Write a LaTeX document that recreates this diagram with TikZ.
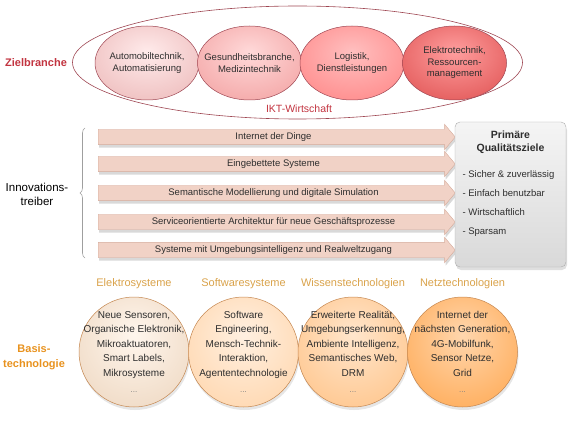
\documentclass[tikz,border=0pt]{standalone}
\usepackage{fontspec}
\setmainfont{Liberation Sans}
\usepackage{tikz}
\usetikzlibrary{positioning,shapes.geometric,shapes.arrows,shadows,decorations.pathreplacing}
\definecolor{zielrot}{HTML}{C23440}
\definecolor{randrot}{HTML}{9E4652}
\definecolor{pfeilbg}{HTML}{F1D2C6}
\definecolor{pfeilrand}{HTML}{D5AB9B}
\definecolor{basisor}{HTML}{E8921E}
\definecolor{katgold}{HTML}{D9A24A}
\definecolor{kreisrand}{HTML}{C4864F}
\definecolor{textgrau}{HTML}{2E2E2E}
% Schattierungen: heller Kern etwas oberhalb der Mitte
\newcommand{\kugelschatten}[3]{%
  \pgfdeclareradialshading{#1}{\pgfpoint{0bp}{8bp}}%
    {color(0bp)=(#2); color(30bp)=(#2!45!#3); color(50bp)=(#3); color(70bp)=(#3)}}
\kugelschatten{zielA}{white!92!red}{red!32!white!94!black}
\kugelschatten{zielB}{white!85!red}{red!48!white!96!black}
\kugelschatten{zielC}{white!75!red}{red!65!white}
\kugelschatten{zielD}{white!62!red}{red!80!white!90!black}
\kugelschatten{basisA}{white!93!orange}{orange!25!brown!30!white}
\kugelschatten{basisB}{white!88!orange}{orange!48!white}
\kugelschatten{basisC}{white!80!orange}{orange!65!white}
\kugelschatten{basisD}{white!68!orange}{orange!88!white}
\newcommand{\punktetext}{{\fontsize{8}{9}\selectfont\color{gray}...}}

\begin{document}
\begin{tikzpicture}[x=1pt,y=-1pt,
  ziel/.style={ellipse,draw=randrot,line width=0.5pt,minimum width=104pt,minimum height=74pt,inner sep=0pt},
  zieltext/.style={align=center,font=\fontsize{9.5}{11.5}\selectfont,text=textgrau},
  treiber/.style={single arrow,draw=pfeilrand,fill=pfeilbg,minimum height=357pt,
               single arrow head extend=5pt,single arrow tip angle=100,single arrow head indent=0pt,
               inner ysep=3pt,text height=7pt,text depth=2pt,
               font=\fontsize{9.5}{11}\selectfont,text=textgrau,
               drop shadow={opacity=.3,shadow xshift=1pt,shadow yshift=-3pt}},
  basis/.style={circle,draw=kreisrand,line width=0.5pt,minimum size=110pt,inner sep=0pt,
               drop shadow={opacity=.2,shadow xshift=1pt,shadow yshift=-3pt}},
  basistext/.style={align=center,font=\fontsize{10}{14.5}\selectfont,text=textgrau},
  kat/.style={font=\fontsize{11}{13}\selectfont,text=katgold},
  seite/.style={font=\bfseries\fontsize{11}{15}\selectfont,align=center}
]
\useasboundingbox (0,0) rectangle (570,422);

% Zielbranche
\node[ellipse,draw=randrot,line width=0.6pt,minimum width=450pt,minimum height=113pt] (ikt) at (297.5,62.5) {};
\node[ziel,shading=zielA] (z1) at (147,63) {};
\node[ziel,shading=zielB,right=-2pt of z1] (z2) {};
\node[ziel,shading=zielC,right=-2pt of z2] (z3) {};
\node[ziel,shading=zielD,right=-2pt of z3] (z4) {};
\node[zieltext] (z1t) at (z1) {Automobiltechnik,\\Automatisierung};
\node[zieltext] (z2t) at (z2) {Gesundheitsbranche,\\Medizintechnik};
\node[zieltext] (z3t) at (z3) {Logistik,\\Dienstleistungen};
\node[zieltext] (z4t) at (z4) {Elektrotechnik,\\Ressourcen-\\management};
\node[font=\fontsize{10.5}{12}\selectfont,text=zielrot] (iktlabel) at (299,109) {IKT-Wirtschaft};
\node[seite,text=zielrot] (zlabel) at (36,63) {Zielbranche};

% Innovationstreiber
\node[treiber] (t1) at (273.5,137) {Internet der Dinge};
\node[treiber] (t2) at (273.5,164) {Eingebettete Systeme};
\node[treiber] (t3) at (273.5,193) {Semantische Modellierung und digitale Simulation};
\node[treiber] (t4) at (273.5,222) {Serviceorientierte Architektur für neue Geschäftsprozesse};
\node[treiber] (t5) at (273.5,250) {Systeme mit Umgebungsintelligenz und Realweltzugang};
\coordinate (kunten) at (85,258);
\coordinate (koben) at (85,128);
\draw[decorate,decoration={brace,amplitude=5pt},draw=gray!75,line width=0.6pt] (kunten) -- (koben);
\node[font=\fontsize{11.5}{14}\selectfont,align=center] (tlabel) at (37,194) {Innovations-\\treiber};

% Qualitaetsziele
\node[rectangle,rounded corners=5pt,draw=gray!65,top color=gray!8,bottom color=gray!30,
      minimum width=111pt,minimum height=145pt,
      drop shadow={opacity=.25,shadow xshift=1pt,shadow yshift=-3pt}] (qz) at (510.5,194.5) {};
\node[font=\bfseries\fontsize{10.5}{13}\selectfont,align=center,text=textgrau] (qztitel) at (510.5,142.5)
     {Primäre\\Qualitätsziele};
\node[anchor=west,font=\fontsize{9.5}{19}\selectfont,align=left,text=textgrau] (qzliste) at (459,203.5)
     {- Sicher \& zuverlässig\\- Einfach benutzbar\\- Wirtschaftlich\\- Sparsam};

% Basistechnologie
\node[basis,shading=basisA] (b1) at (134,352) {};
\node[basis,shading=basisB,right=-1pt of b1] (b2) {};
\node[basis,shading=basisC,right=-1pt of b2] (b3) {};
\node[basis,shading=basisD,right=-1pt of b3] (b4) {};
\node[basistext] (b1t) at (b1) {Neue Sensoren,\\Organische Elektronik,\\Mikroaktuatoren,\\Smart Labels,\\Mikrosysteme\\[2pt]\punktetext};
\node[basistext] (b2t) at (b2) {Software\\Engineering,\\Mensch-Technik-\\Interaktion,\\Agententechnologie\\[2pt]\punktetext};
\node[basistext] (b3t) at (b3) {Erweiterte Realität,\\Umgebungserkennung,\\Ambiente Intelligenz,\\Semantisches Web,\\DRM\\[2pt]\punktetext};
\node[basistext] (b4t) at (b4) {Internet der\\nächsten Generation,\\4G-Mobilfunk,\\Sensor Netze,\\Grid\\[2pt]\punktetext};
\node[kat] (k1) at (b1.center |- 0,284) {Elektrosysteme};
\node[kat] (k2) at (b2.center |- 0,284) {Softwaresysteme};
\node[kat] (k3) at (b3.center |- 0,284) {Wissenstechnologien};
\node[kat] (k4) at (b4.center |- 0,284) {Netztechnologien};
\node[seite,text=basisor] (blabel) at (34,357.5) {Basis-\\technologie};
\end{tikzpicture}
\end{document}
